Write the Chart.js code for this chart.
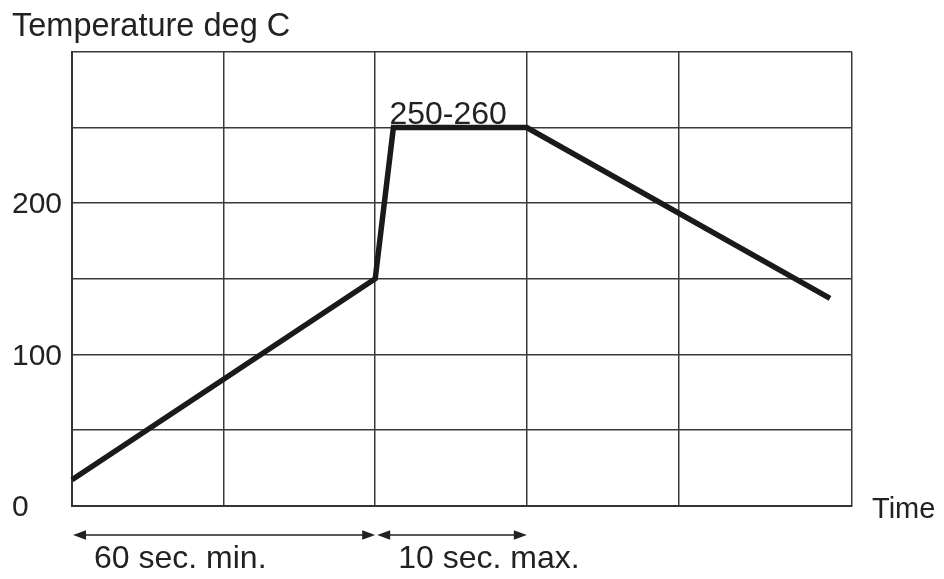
<!DOCTYPE html>
<html><head><meta charset="utf-8">
<script src="https://cdn.jsdelivr.net/npm/chart.js@4"></script>
<style>html,body{margin:0;padding:0;background:#fff}#wrap{width:944px;height:579px;position:relative}</style>
</head><body><div id="wrap"><canvas id="c"></canvas></div>
<script>
// ---- data ----
const timeValues   = [0, 2, 2.12, 3, 5];
const temperatures = [17, 150, 250, 250, 137];
const xGridValues  = [0, 1, 2, 3, 4];
const xAxisMax     = 5.145;
const yLabelValues = [0, 100, 200];
const spanStarts   = [0, 2];
const spanEnds     = [2, 3];
const spanLabels   = ['60 sec. min.', '10 sec. max.'];
const peakLabel    = '250-260';
const yTitle       = 'Temperature deg C';
const xTitle       = 'Time';

const FONT = '"Liberation Sans", Arial, sans-serif';
const TXT = '#222';

const points = timeValues.map((t, i) => ({x: t, y: temperatures[i]}));

const extras = {
  id: 'extras',
  afterDraw(chart) {
    const ctx = chart.ctx, xs = chart.scales.x, ys = chart.scales.y, a = chart.chartArea;
    ctx.save();
    ctx.fillStyle = TXT;
    ctx.textBaseline = 'alphabetic';
    ctx.textAlign = 'left';
    ctx.font = '32.5px ' + FONT;
    ctx.fillText(yTitle, 12, 36);
    ctx.font = '32px ' + FONT;
    ctx.fillText(peakLabel, xs.getPixelForValue(timeValues[2]) - 4, ys.getPixelForValue(temperatures[2]) - 4);
    ctx.font = '29px ' + FONT;
    ctx.fillText(xTitle, a.right + 20, a.bottom + 12);
    // span arrows
    const ay = a.bottom + 29.5;
    ctx.strokeStyle = '#222';
    ctx.lineWidth = 1.6;
    ctx.font = '32px ' + FONT;
    spanStarts.forEach((s, i) => {
      const x0 = xs.getPixelForValue(s) + (i > 0 ? 2 : 1);
      const x1 = xs.getPixelForValue(spanEnds[i]);
      ctx.beginPath();
      ctx.moveTo(x0 + 8, ay); ctx.lineTo(x1 - 8, ay); ctx.stroke();
      ctx.beginPath();
      ctx.moveTo(x0, ay); ctx.lineTo(x0 + 13, ay - 4.8); ctx.lineTo(x0 + 13, ay + 4.8); ctx.closePath(); ctx.fill();
      ctx.beginPath();
      ctx.moveTo(x1, ay); ctx.lineTo(x1 - 13, ay - 4.8); ctx.lineTo(x1 - 13, ay + 4.8); ctx.closePath(); ctx.fill();
      ctx.fillText(spanLabels[i], x0 + 21, a.bottom + 62.5);
    });
    ctx.restore();
  }
};

new Chart(document.getElementById('c'), {
  type: 'line',
  data: { datasets: [{
    data: points,
    borderColor: '#1a1a1a',
    borderWidth: 5.5,
    pointRadius: 0,
    tension: 0,
    borderCapStyle: 'butt',
    borderJoinStyle: 'miter',
    clip: 6
  }]},
  options: {
    responsive: true,
    maintainAspectRatio: false,
    animation: false,
    layout: { padding: { left: 12, top: 52, right: 92, bottom: 0 } },
    plugins: { legend: { display: false }, tooltip: { enabled: false } },
    scales: {
      x: {
        type: 'linear', min: 0, max: xAxisMax,
        afterBuildTicks: s => { s.ticks = xGridValues.concat([xAxisMax]).map(v => ({value: v})); },
        afterFit: s => { s.height = 73.5; },
        ticks: { display: false },
        grid: { color: '#3a3a3a', lineWidth: 1.5, drawTicks: false },
        border: { display: true, color: '#333', width: 2 }
      },
      y: {
        min: 0, max: 300,
        afterFit: s => { s.width = 60; },
        ticks: {
          stepSize: 50,
          crossAlign: 'far',
          labelOffset: 2,
          color: TXT,
          font: { family: FONT, size: 30 },
          callback: v => yLabelValues.includes(v) ? String(v) : ''
        },
        grid: { color: '#3a3a3a', lineWidth: 1.5, drawTicks: false },
        border: { display: true, color: '#333', width: 2 }
      }
    }
  },
  plugins: [extras]
});
</script></body></html>
